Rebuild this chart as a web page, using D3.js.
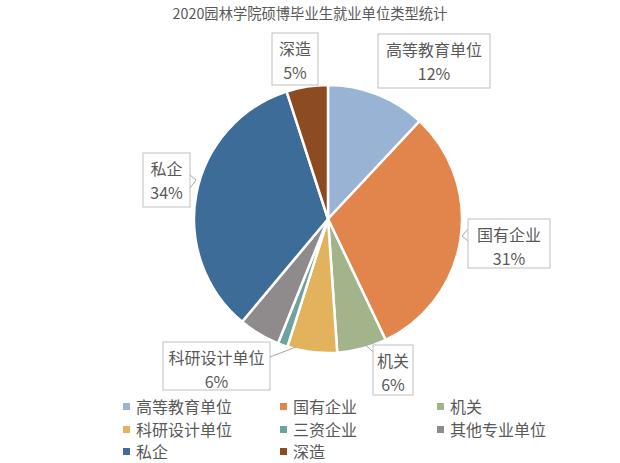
<!DOCTYPE html>
<html><head><meta charset="utf-8">
<script src="https://cdn.jsdelivr.net/npm/d3@7"></script>
<style>body{margin:0;background:#fff}</style>
</head><body><svg id="c" width="620" height="463"></svg>
<script>
const categories = ["高等教育单位","国有企业","机关","科研设计单位","三资企业","其他专业单位","私企","深造"];
const values = [12,31,6,6,1.2,5,34,5];
const labelsShown = ["12%","31%","6%","6%","","","34%","5%"];
const colors = ["#98B3D3","#E2854C","#A3B38A","#E2B25D","#6DA29F","#8F8B8D","#3E6C98","#8C4B20"];
const title = "2020园林学院硕博毕业生就业单位类型统计";

const svg = d3.select("#c");
const font = "'Noto Sans CJK SC', sans-serif";
svg.append("text").attr("x",310).attr("y",19).attr("text-anchor","middle")
  .attr("font-family",font).attr("font-size",14.3).attr("fill","#595959").text(title);

const cx = 328, cy = 219, r = 134;
const pie = d3.pie().sort(null).value(d=>d);
const arcs = pie(values);
const arc = d3.arc().innerRadius(0).outerRadius(r);
const g = svg.append("g").attr("transform",`translate(${cx},${cy})`);
g.selectAll("path").data(arcs).join("path").attr("d",arc)
  .attr("fill",(d,i)=>colors[i]).attr("stroke","#fff").attr("stroke-width",2.5);

const boxes = [
  {i:0, x:378, y:34, w:112, h:54, lead:null},
  {i:1, x:468, y:219, w:82, h:49, lead:[[468,229],[462,236],[468,241]]},
  {i:2, x:373, y:345, w:40, h:50, lead:[[373,352],[352,332]]},
  {i:3, x:163, y:342, w:107, h:48, lead:[[270,357],[296,347]]},
  {i:6, x:143, y:153, w:47, h:54, lead:[[190,175],[196,180],[190,188]]},
  {i:7, x:272, y:33, w:46, h:52, lead:null}
];
const lb = svg.append("g");
boxes.forEach(b=>{
  if(b.lead){
    lb.append("polyline").attr("points",b.lead.map(p=>p.join(",")).join(" "))
      .attr("fill","none").attr("stroke","#a6a6a6").attr("stroke-width",1);
  }
  lb.append("rect").attr("x",b.x).attr("y",b.y).attr("width",b.w).attr("height",b.h)
    .attr("fill","#fff").attr("stroke","#bfbfbf").attr("stroke-width",1);
  const t = lb.append("text").attr("font-family",font).attr("font-size",16).attr("fill","#595959")
    .attr("text-anchor","middle");
  t.append("tspan").attr("x",b.x+b.w/2).attr("y",b.y+22).text(categories[b.i]);
  t.append("tspan").attr("x",b.x+b.w/2).attr("y",b.y+46).text(labelsShown[b.i]);
});

const colX = [123,280,437], rowY = [407,430,452];
const lg = svg.append("g");
categories.forEach((c,i)=>{
  const col = i%3, row = Math.floor(i/3);
  lg.append("rect").attr("x",colX[col]).attr("y",rowY[row]-4).attr("width",7).attr("height",7).attr("fill",colors[i]);
  lg.append("text").attr("x",colX[col]+13).attr("y",rowY[row]+6).attr("font-family",font)
    .attr("font-size",16).attr("fill","#595959").text(c);
});
</script></body></html>
